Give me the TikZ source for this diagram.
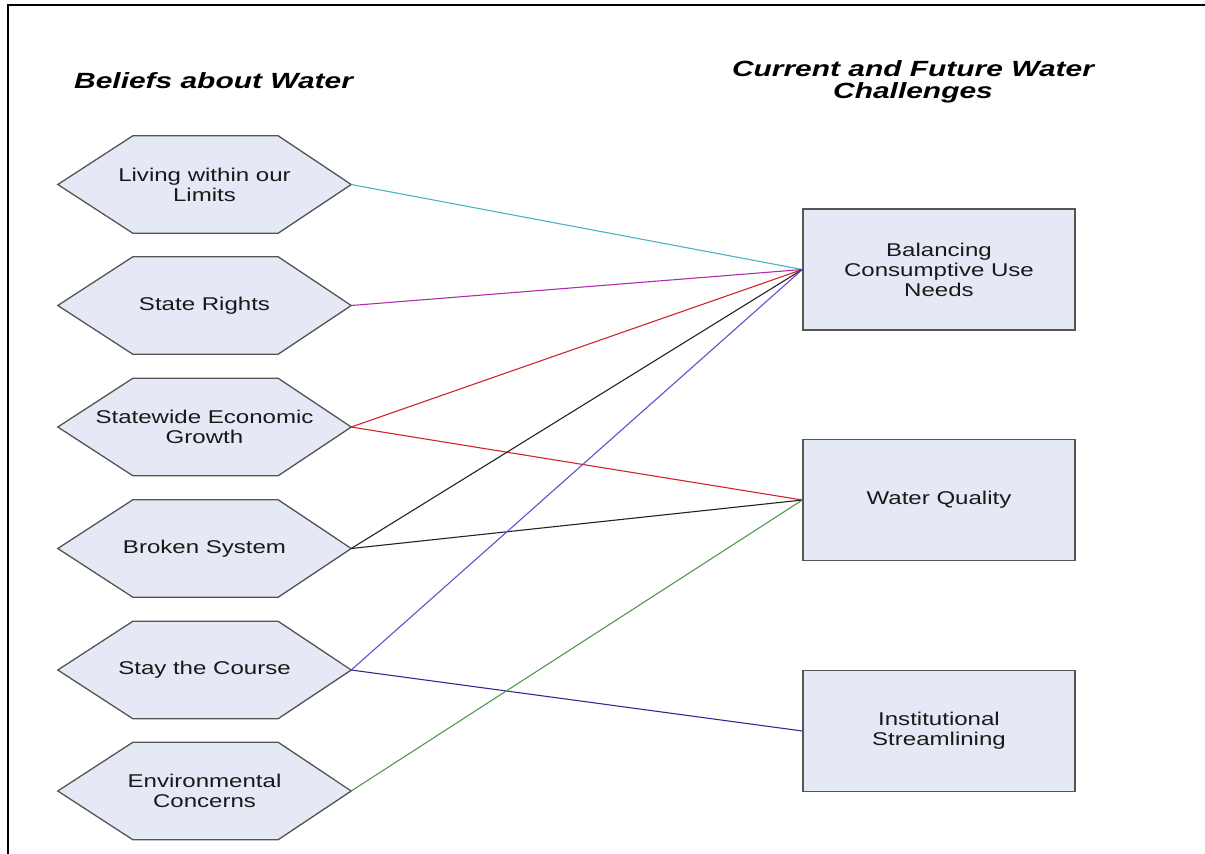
\documentclass[tikz,border=0pt]{standalone}
\usepackage{fontspec}
\setmainfont[FakeStretch=1.3]{Liberation Sans}
\newfontfamily\headfont[FakeStretch=1.36]{Liberation Sans}
\usetikzlibrary{calc,backgrounds}

\definecolor{boxfill}{RGB}{228,233,245}
\definecolor{boxline}{RGB}{85,85,85}
\definecolor{lnteal}{RGB}{75,180,190}
\definecolor{lnmagenta}{RGB}{175,45,170}
\definecolor{lnred}{RGB}{210,35,45}
\definecolor{lnblack}{RGB}{35,35,35}
\definecolor{lnviolet}{RGB}{105,75,205}
\definecolor{lnnavy}{RGB}{55,40,145}
\definecolor{lngreen}{RGB}{85,150,85}

\tikzset{
  heading/.style={font=\headfont\fontsize{22}{22}\selectfont\bfseries\itshape, align=center, inner sep=0pt},
  bodytext/.style={font=\fontsize{18.5}{20}\selectfont, text=black!90, align=center},
  hexbox/.style={bodytext, minimum width=293pt, minimum height=97pt, inner sep=0pt},
  hexshape/.style={draw=boxline, fill=boxfill, line width=1.3pt, line join=miter},
  challenge/.style={bodytext, draw=boxline, fill=boxfill, line width=1.3pt,
                    minimum width=272pt, minimum height=121pt, inner sep=0pt},
  link/.style={line width=1.1pt},
  frameline/.style={line width=2pt, black}
}

\begin{document}
\begin{tikzpicture}[x=1pt, y=-1pt]
  \useasboundingbox (0,0) rectangle (1205,854);

  % page frame (top and left edges)
  \draw[frameline] (8,854) -- (8,5) -- (1205,5);

  % column headings
  \node[heading, anchor=base west] (hdl) at (74,88) {Beliefs about Water};
  \node[heading] (hdr) at (913,82) {Current and Future Water\\Challenges};

  % beliefs (hexagons)
  \node[hexbox] (h1) at (204.5,184.5) {Living within our\\Limits};
  \node[hexbox] (h2) at (204.5,305.5) {State Rights};
  \node[hexbox] (h3) at (204.5,427) {Statewide Economic\\Growth};
  \node[hexbox] (h4) at (204.5,548.5) {Broken System};
  \node[hexbox] (h5) at (204.5,670) {Stay the Course};
  \node[hexbox] (h6) at (204.5,791) {Environmental\\Concerns};

  \begin{scope}[on background layer]
    \foreach \n in {h1,h2,h3,h4,h5,h6}
      \draw[hexshape] (\n.west) -- ($(\n.north west)+(75,0)$)
        -- ($(\n.north east)+(-73,0)$) -- (\n.east)
        -- ($(\n.south east)+(-73,0)$) -- ($(\n.south west)+(75,0)$) -- cycle;
  \end{scope}

  % challenges (rectangles)
  \node[challenge] (bal) at (939,269.5) {Balancing\\Consumptive Use\\Needs};
  \node[challenge] (wq)  at (939,500)   {Water Quality};
  \node[challenge] (ins) at (939,731)   {Institutional\\Streamlining};

  % links between beliefs and challenges
  \draw[link, lnteal]    (h1.east) -- (bal.west);
  \draw[link, lnmagenta] (h2.east) -- (bal.west);
  \draw[link, lnred]     (h3.east) -- (bal.west);
  \draw[link, lnred]     (h3.east) -- (wq.west);
  \draw[link, lnblack]   (h4.east) -- (bal.west);
  \draw[link, lnblack]   (h4.east) -- (wq.west);
  \draw[link, lnviolet]  (h5.east) -- (bal.west);
  \draw[link, lnnavy]    (h5.east) -- (ins.west);
  \draw[link, lngreen]   (h6.east) -- (wq.west);
\end{tikzpicture}
\end{document}
